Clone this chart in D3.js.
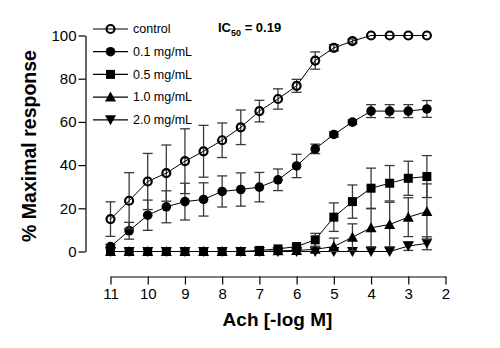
<!DOCTYPE html>
<html><head><meta charset="utf-8">
<script src="https://cdn.jsdelivr.net/npm/d3@7"></script>
<style>body{margin:0;background:#fff}</style>
</head><body>
<script>
const doses = [11,10.5,10,9.5,9,8.5,8,7.5,7,6.5,6,5.5,5,4.5,4,3.5,3,2.5];
const controlVals = [15,23.5,32.4,36.3,41.8,46.4,51.5,57.5,65,70.6,76.7,88.4,94.3,97.4,100,100,100,100];
const controlSEM  = [8,13,13,13,15,12,8,8,5,4.7,3,4,1.5,1,0,0,0,0];
const c01Vals = [2.3,9.6,16.8,20.7,23.1,24.1,27.8,28.7,29.8,33.2,39.6,47.5,54.2,59.9,65,65,65,66];
const c01SEM  = [1,3.9,7,7.4,8.5,7.7,7.2,7.7,6.8,5,5.4,2.2,1.2,1,3,3,3,3.9];
const c05Vals = [0,0,0,0,0,0,0,0,0.5,1.2,2.3,5.4,15.9,23.1,29.3,31.6,33.9,34.7];
const c05SEM  = [0,0,0,0,0,0,0,0,0.5,0.5,1,3,6.6,7.7,9.3,8.2,7.9,9.7];
const c10Vals = [0,0,0,0,0,0,0,0,0,0.3,0.5,1,2.3,6.6,11,12.5,15.9,18.5];
const c10SEM  = [0,0,0,0,0,0,0,0,0,0,0.5,1,3.9,6.2,8.8,10.3,9,12.8];
const c20Vals = [0,0,0,0,0,0,0,0,0,0,0,0,0,0,0,0,2.5,3.8];
const c20SEM  = [0,0,0,0,0,0,0,0,0,0,0,0,0,0,0,0,2,3];
const seriesNames = ["control","0.1 mg/mL","0.5 mg/mL","1.0 mg/mL","2.0 mg/mL"];
const seriesSymbols = ["openCircle","circle","square","triangleUp","triangleDown"];
const xTicks = [11,10,9,8,7,6,5,4,3,2];
const yTicks = [0,20,40,60,80,100];

const series = [
  {name:seriesNames[0], sym:seriesSymbols[0], v:controlVals, e:controlSEM},
  {name:seriesNames[1], sym:seriesSymbols[1], v:c01Vals, e:c01SEM},
  {name:seriesNames[2], sym:seriesSymbols[2], v:c05Vals, e:c05SEM},
  {name:seriesNames[3], sym:seriesSymbols[3], v:c10Vals, e:c10SEM},
  {name:seriesNames[4], sym:seriesSymbols[4], v:c20Vals, e:c20SEM}
];

const W=500,H=348;
const font = "'Liberation Sans', Arial, sans-serif";
const svg = d3.select("body").append("svg").attr("width",W).attr("height",H)
  .style("font-family",font);

const x = d3.scaleLinear().domain([11,2]).range([110.5,445.5]);
const y = d3.scaleLinear().domain([0,100]).range([251.5,35.5]);

// axes
const yAxis = svg.append("g").attr("transform","translate(85.5,0)")
  .call(d3.axisLeft(y).tickValues(yTicks).tickSize(7).tickSizeOuter(0).tickPadding(2));
const xAxis = svg.append("g").attr("transform","translate(0,276.5)")
  .call(d3.axisBottom(x).tickValues(xTicks).tickSize(8).tickSizeOuter(0).tickPadding(4));
[yAxis,xAxis].forEach(a=>{
  a.selectAll("path,line").attr("stroke","#000").attr("stroke-width",1.2);
  a.selectAll("text").attr("fill","#000").style("font-size","15px").style("font-family",font);
});

svg.append("text").attr("x",277.5).attr("y",326).attr("text-anchor","middle")
  .style("font-size","19px").style("font-weight","bold").text("Ach [-log M]");
svg.append("text").attr("transform","translate(36,146) rotate(-90)").attr("text-anchor","middle")
  .style("font-size","19.5px").style("font-weight","bold").text("% Maximal response");

// symbol drawing
function drawSym(g, sym, cx, cy){
  if(sym==="openCircle"){
    g.append("circle").attr("cx",cx).attr("cy",cy).attr("r",4).attr("fill","none").attr("stroke","#000").attr("stroke-width",2.2);
  } else if(sym==="circle"){
    g.append("circle").attr("cx",cx).attr("cy",cy).attr("r",4.8).attr("fill","#000");
  } else if(sym==="square"){
    g.append("rect").attr("x",cx-4.5).attr("y",cy-4.5).attr("width",9).attr("height",9).attr("fill","#000");
  } else if(sym==="triangleUp"){
    g.append("path").attr("d",`M${cx},${cy-5.5}L${cx+5.5},${cy+4.5}L${cx-5.5},${cy+4.5}Z`).attr("fill","#000");
  } else {
    g.append("path").attr("d",`M${cx},${cy+5.5}L${cx+5.5},${cy-4.5}L${cx-5.5},${cy-4.5}Z`).attr("fill","#000");
  }
}

const line = d3.line().x(d=>x(d[0])).y(d=>y(d[1]));
const plot = svg.append("g");
// draw from back to front
const order = [4,3,2,1,0];
order.forEach(i=>{
  const s = series[i];
  const g = plot.append("g");
  // error bars
  doses.forEach((d,j)=>{
    const e = s.e[j]; if(!e) return;
    const cx = x(d), y1 = y(s.v[j]+e), y2 = y(Math.max(0,s.v[j]-e));
    const col = "#3a3a3a";
    g.append("line").attr("x1",cx).attr("x2",cx).attr("y1",y1).attr("y2",y2).attr("stroke",col).attr("stroke-width",1.3);
    g.append("line").attr("x1",cx-5).attr("x2",cx+5).attr("y1",y1).attr("y2",y1).attr("stroke",col).attr("stroke-width",1.3);
    g.append("line").attr("x1",cx-5).attr("x2",cx+5).attr("y1",y2).attr("y2",y2).attr("stroke",col).attr("stroke-width",1.3);
  });
  g.append("path").attr("d",line(doses.map((d,j)=>[d,s.v[j]]))).attr("fill","none").attr("stroke","#000").attr("stroke-width",1);
  doses.forEach((d,j)=>drawSym(g,s.sym,x(d),y(s.v[j])));
});

// legend
const leg = svg.append("g");
series.forEach((s,i)=>{
  const ly = 29 + i*22.7;
  leg.append("line").attr("x1",93).attr("x2",128).attr("y1",ly).attr("y2",ly).attr("stroke","#000").attr("stroke-width",1.2);
  drawSym(leg,s.sym,110.5,ly);
  leg.append("text").attr("x",133).attr("y",ly+4.3).style("font-size","12.5px").text(s.name);
});

// IC50 annotation
const ic = svg.append("text").attr("x",218).attr("y",32).style("font-size","13px").style("font-weight","bold");
ic.append("tspan").text("IC");
ic.append("tspan").attr("dy",3.5).style("font-size","9px").text("50");
ic.append("tspan").attr("dy",-3.5).text(" = 0.19");
</script>
</body></html>
